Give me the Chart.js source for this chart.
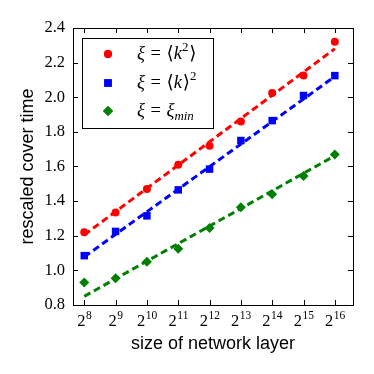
<!DOCTYPE html>
<html>
<head>
<meta charset="utf-8">
<script src="https://cdn.jsdelivr.net/npm/chart.js@4/dist/chart.umd.min.js"></script>
<style>
  html, body { margin: 0; padding: 0; background: #fff; }
  #wrap { width: 374px; height: 374px; }
</style>
</head>
<body>
<div id="wrap"><canvas id="myChart" width="374" height="374"></canvas></div>
<script>
// network layer size as powers of two (exponents)
const exponents = [8, 9, 10, 11, 12, 13, 14, 15, 16];
const yTicks = [0.8, 1.0, 1.2, 1.4, 1.6, 1.8, 2.0, 2.2, 2.4];

// measured rescaled cover time
const kSquaredMean = [1.22, 1.335, 1.47, 1.61, 1.72, 1.86, 2.025, 2.125, 2.32];
const kMeanSquared = [1.085, 1.225, 1.315, 1.465, 1.585, 1.75, 1.865, 2.01, 2.125];
const kMin = [0.93, 0.955, 1.05, 1.125, 1.245, 1.365, 1.44, 1.545, 1.67];

// dashed fit lines, values at 2^8 and 2^16
const fitX = [8, 16];
const fitKSquaredMean = [1.205, 2.28];
const fitKMeanSquared = [1.078, 2.12];
const fitKMin = [0.85, 1.662];

// legend math text, gap = extra space in em
const legendLabels = [
  [{t: 'ξ', i: true}, {gap: 0.3}, {t: '='}, {gap: 0.3}, {t: '⟨'}, {t: 'k', i: true}, {t: '2', sup: true}, {gap: 0.05}, {t: '⟩'}],
  [{t: 'ξ', i: true}, {gap: 0.3}, {t: '='}, {gap: 0.3}, {t: '⟨'}, {t: 'k', i: true}, {gap: 0.05}, {t: '⟩'}, {t: '2', sup: true}],
  [{t: 'ξ', i: true}, {gap: 0.3}, {t: '='}, {gap: 0.3}, {t: 'ξ', i: true}, {t: 'min', sub: true, i: true}]
];

const RED = '#ff0000', BLUE = '#0000ff', GREEN = '#008000';
const SERIF = '"Liberation Serif", "DejaVu Serif", serif';

function pts(xs, ys) {
  return xs.map((x, i) => ({x: x, y: ys[i]}));
}

function drawRich(ctx, parts, x, y, size) {
  ctx.textBaseline = 'alphabetic';
  ctx.textAlign = 'left';
  parts.forEach(p => {
    if (p.gap) { x += p.gap * size; return; }
    let fs = size, dy = 0;
    if (p.sup) { fs = size * 0.7; dy = -size * 0.42; }
    if (p.sub) { fs = size * 0.7; dy = size * 0.22; }
    ctx.font = (p.i ? 'italic ' : '') + fs + 'px ' + SERIF;
    ctx.fillText(p.t, x, y + dy);
    x += ctx.measureText(p.t).width;
  });
}

// frame, inward ticks, power-of-two labels, legend box
const framePlugin = {
  id: 'frame',
  afterDraw(chart) {
    const ctx = chart.ctx;
    const a = chart.chartArea;
    const xs = chart.scales.x, ys = chart.scales.y;
    ctx.save();
    ctx.strokeStyle = '#000';
    ctx.lineWidth = 1;
    ctx.strokeRect(a.left + 0.5, a.top + 0.5, a.right - a.left, a.bottom - a.top);
    ctx.beginPath();
    exponents.forEach(e => {
      const px = Math.round(xs.getPixelForValue(e)) + 0.5;
      ctx.moveTo(px, a.bottom); ctx.lineTo(px, a.bottom - 5);
      ctx.moveTo(px, a.top); ctx.lineTo(px, a.top + 5);
    });
    yTicks.forEach(v => {
      const py = Math.round(ys.getPixelForValue(v)) + 0.5;
      ctx.moveTo(a.left, py); ctx.lineTo(a.left + 5, py);
      ctx.moveTo(a.right, py); ctx.lineTo(a.right - 5, py);
    });
    ctx.stroke();

    // x tick labels 2^n
    ctx.fillStyle = '#000';
    exponents.forEach(e => {
      const px = xs.getPixelForValue(e);
      ctx.font = '16.5px ' + SERIF;
      const w1 = ctx.measureText('2').width;
      ctx.font = '11.5px ' + SERIF;
      const w2 = ctx.measureText(String(e)).width;
      const x0 = px - (w1 + w2) / 2;
      ctx.textBaseline = 'alphabetic';
      ctx.textAlign = 'left';
      ctx.font = '16.5px ' + SERIF;
      ctx.fillText('2', x0, a.bottom + 21);
      ctx.font = '11.5px ' + SERIF;
      ctx.fillText(String(e), x0 + w1 + 0.5, a.bottom + 14);
    });

    // legend
    const lx = a.left + 9, ly = a.top + 10, lw = 131, lh = 90;
    ctx.fillStyle = '#fff';
    ctx.fillRect(lx, ly, lw, lh);
    ctx.strokeRect(lx + 0.5, ly + 0.5, lw, lh);
    const rows = [ly + 16, ly + 45, ly + 73];
    const styles = [['circle', RED, 4], ['rect', BLUE, 5.3], ['rectRot', GREEN, 5]];
    rows.forEach((ry, i) => {
      const s = styles[i];
      ctx.fillStyle = s[1];
      ctx.strokeStyle = s[1];
      Chart.helpers.drawPoint(ctx, {pointStyle: s[0], radius: s[2], borderWidth: 0}, lx + 26, ry);
      ctx.fill();
      ctx.fillStyle = '#000';
      drawRich(ctx, legendLabels[i], lx + 55, ry + 5, 18.5);
    });
    ctx.restore();
  }
};

function markerSet(label, data, color, style, radius) {
  return {
    type: 'scatter',
    label: label,
    data: pts(exponents, data),
    backgroundColor: color,
    borderColor: color,
    borderWidth: 0,
    pointStyle: style,
    pointRadius: radius,
    showLine: false,
    order: 2
  };
}

function fitSet(data, color) {
  return {
    type: 'line',
    data: pts(fitX, data),
    borderColor: color,
    borderWidth: 3,
    borderDash: [7, 4],
    pointRadius: 0,
    fill: false,
    order: 1
  };
}

const ctx = document.getElementById('myChart').getContext('2d');
const myChart = new Chart(ctx, {
  data: {
    datasets: [
      markerSet('<k^2>', kSquaredMean, RED, 'circle', 4),
      markerSet('<k>^2', kMeanSquared, BLUE, 'rect', 5.3),
      markerSet('xi_min', kMin, GREEN, 'rectRot', 5),
      fitSet(fitKSquaredMean, RED),
      fitSet(fitKMeanSquared, BLUE),
      fitSet(fitKMin, GREEN)
    ]
  },
  options: {
    responsive: false,
    animation: false,
    layout: { padding: { left: 0, top: 28, right: 21, bottom: 0 } },
    plugins: { legend: { display: false }, tooltip: { enabled: false } },
    scales: {
      x: {
        type: 'linear',
        min: 7.64,
        max: 16.58,
        grid: { display: false, drawTicks: false },
        border: { display: false },
        ticks: { display: false },
        title: {
          display: true,
          text: 'size of network layer',
          color: '#000',
          font: { family: '"Liberation Sans", Arial, sans-serif', size: 18 },
          padding: { bottom: 19 }
        },
        afterFit(scale) { scale.height = 69; }
      },
      y: {
        min: 0.8,
        max: 2.4,
        grid: { display: false, drawTicks: false },
        border: { display: false },
        ticks: {
          stepSize: 0.2,
          padding: 8,
          color: '#000',
          font: { family: SERIF, size: 16.5 },
          callback: v => v.toFixed(1)
        },
        title: {
          display: true,
          text: 'rescaled cover time',
          color: '#000',
          font: { family: '"Liberation Sans", Arial, sans-serif', size: 18 },
          padding: { top: 17 }
        },
        afterFit(scale) { scale.width = 73; }
      }
    }
  },
  plugins: [framePlugin]
});
</script>
</body>
</html>
